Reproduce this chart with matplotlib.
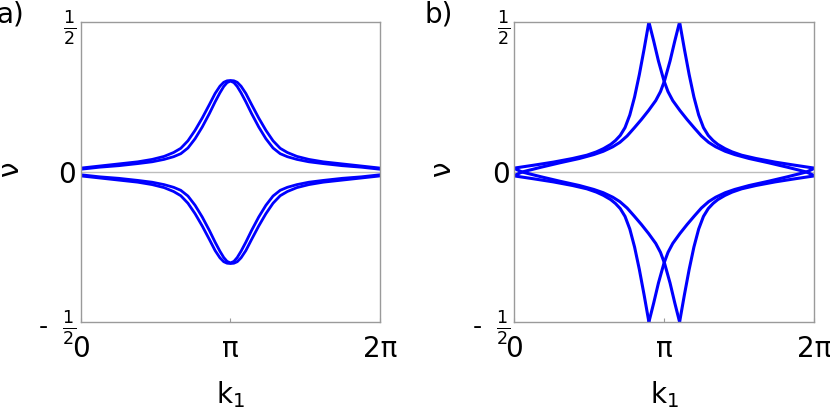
import numpy as np
import matplotlib.pyplot as plt

# panel a) - two close pairs of curves, peaked at pi
k_a = [0, 0.4, 0.8, 1.2, 1.5, 1.75, 1.95, 2.1, 2.25, 2.4, 2.55, 2.7, 2.82, 2.92, 3.0, 3.07,
       3.1416, 3.213, 3.283, 3.363, 3.463, 3.583, 3.733, 3.883, 4.033, 4.183, 4.333, 4.533,
       4.783, 5.083, 5.483, 5.883, 6.283]
nu_a_outer = [0.013, 0.020, 0.027, 0.034, 0.042, 0.052, 0.065, 0.079, 0.104, 0.139, 0.180,
              0.225, 0.262, 0.286, 0.299, 0.304, 0.305, 0.304, 0.299, 0.286, 0.262, 0.225,
              0.180, 0.139, 0.104, 0.079, 0.065, 0.052, 0.042, 0.034, 0.027, 0.020, 0.013]
nu_a_inner = [0.009, 0.016, 0.021, 0.028, 0.034, 0.042, 0.051, 0.061, 0.080, 0.111, 0.150,
              0.195, 0.234, 0.264, 0.285, 0.298, 0.303, 0.298, 0.285, 0.264, 0.234, 0.195,
              0.150, 0.111, 0.080, 0.061, 0.051, 0.042, 0.034, 0.028, 0.021, 0.016, 0.009]
nu_a_outer_neg = [-0.013, -0.020, -0.027, -0.034, -0.042, -0.052, -0.065, -0.079, -0.104,
                  -0.139, -0.180, -0.225, -0.262, -0.286, -0.299, -0.304, -0.305, -0.304,
                  -0.299, -0.286, -0.262, -0.225, -0.180, -0.139, -0.104, -0.079, -0.065,
                  -0.052, -0.042, -0.034, -0.027, -0.020, -0.013]
nu_a_inner_neg = [-0.009, -0.016, -0.021, -0.028, -0.034, -0.042, -0.051, -0.061, -0.080,
                  -0.111, -0.150, -0.195, -0.234, -0.264, -0.285, -0.298, -0.303, -0.298,
                  -0.285, -0.264, -0.234, -0.195, -0.150, -0.111, -0.080, -0.061, -0.051,
                  -0.042, -0.034, -0.028, -0.021, -0.016, -0.009]

# panel b) - cusps reaching +-1/2 at two k values
# steep arm left of the first cusp, and its mirror right of the second cusp
k_b1 = [0, 0.42, 0.82, 1.22, 1.52, 1.72, 1.87, 2.02, 2.12, 2.22, 2.32, 2.42, 2.52, 2.62,
        2.72, 2.82]
nu_b1 = [0.013, 0.023, 0.033, 0.045, 0.056, 0.067, 0.078, 0.092, 0.105, 0.122, 0.148, 0.19,
         0.25, 0.325, 0.41, 0.5]
k_b2 = [3.463, 3.563, 3.663, 3.763, 3.863, 3.963, 4.063, 4.163, 4.263, 4.413, 4.563, 4.763,
        5.063, 5.463, 5.863, 6.283]
nu_b2 = [0.5, 0.41, 0.325, 0.25, 0.19, 0.148, 0.122, 0.105, 0.092, 0.078, 0.067, 0.056,
         0.045, 0.033, 0.023, 0.013]
# wide arm right of the first cusp, and its mirror left of the second cusp
k_b1r = [2.82, 2.92, 3.02, 3.134, 3.22, 3.32, 3.47, 3.62, 3.77, 3.92, 4.07, 4.22, 4.42,
         4.62, 4.92, 5.32, 5.72, 6.02, 6.12, 6.283]
nu_b1r = [0.5, 0.437, 0.37, 0.305, 0.268, 0.238, 0.205, 0.175, 0.147, 0.12, 0.099, 0.084,
          0.069, 0.058, 0.045, 0.031, 0.016, 0.004, 0.0, -0.012]
k_b2l = [0, 0.163, 0.263, 0.563, 0.963, 1.363, 1.663, 1.863, 2.063, 2.213, 2.363, 2.513,
         2.663, 2.813, 2.963, 3.063, 3.149, 3.263, 3.363, 3.463]
nu_b2l = [-0.012, 0.0, 0.004, 0.016, 0.031, 0.045, 0.058, 0.069, 0.084, 0.099, 0.12, 0.147,
          0.175, 0.205, 0.238, 0.268, 0.305, 0.37, 0.437, 0.5]
nu_b1_neg = [-0.013, -0.023, -0.033, -0.045, -0.056, -0.067, -0.078, -0.092, -0.105, -0.122,
             -0.148, -0.19, -0.25, -0.325, -0.41, -0.5]
nu_b2_neg = [-0.5, -0.41, -0.325, -0.25, -0.19, -0.148, -0.122, -0.105, -0.092, -0.078,
             -0.067, -0.056, -0.045, -0.033, -0.023, -0.013]
nu_b1r_neg = [-0.5, -0.437, -0.37, -0.305, -0.268, -0.238, -0.205, -0.175, -0.147, -0.12,
              -0.099, -0.084, -0.069, -0.058, -0.045, -0.031, -0.016, -0.004, 0.0, 0.012]
nu_b2l_neg = [0.012, 0.0, -0.004, -0.016, -0.031, -0.045, -0.058, -0.069, -0.084, -0.099,
              -0.12, -0.147, -0.175, -0.205, -0.238, -0.268, -0.305, -0.37, -0.437, -0.5]

x_ticks = [0, np.pi, 2 * np.pi]
x_labels = ["0", "π", "2π"]
y_ticks = [-0.5, 0, 0.5]
y_labels = [r"-  $\frac{1}{2}$", "0", r"$\frac{1}{2}$"]

BLUE = "#0000ff"
GRAY = "#9a9a9a"


def style_axes(ax):
    ax.set_xlim(0, 2 * np.pi)
    ax.set_ylim(-0.5, 0.5)
    ax.axhline(0, color="#bdbdbd", lw=1, zorder=0)
    for s in ax.spines.values():
        s.set_color(GRAY)
        s.set_linewidth(1)
    ax.set_xticks(x_ticks)
    ax.set_xticklabels(x_labels, fontsize=20)
    ax.set_yticks(y_ticks)
    ax.set_yticklabels(y_labels, fontsize=20)
    for lab in ax.get_yticklabels()[::2]:
        lab.set_fontsize(18)
    ax.tick_params(axis="x", direction="in", length=3, color=GRAY, pad=9)
    ax.tick_params(axis="y", direction="in", length=0, pad=3)
    ax.set_xlabel(r"k$_1$", fontsize=20, labelpad=12)


fig = plt.figure(figsize=(8.3, 4.09), dpi=100)
ax1 = fig.add_axes([0.097, 0.2127, 0.3614, 0.7335])
ax2 = fig.add_axes([0.6196, 0.2127, 0.3614, 0.7335])

lw = 2.0
ax1.plot(k_a, nu_a_outer, color=BLUE, lw=lw)
ax1.plot(k_a, nu_a_inner, color=BLUE, lw=lw)
ax1.plot(k_a, nu_a_outer_neg, color=BLUE, lw=lw)
ax1.plot(k_a, nu_a_inner_neg, color=BLUE, lw=lw)
style_axes(ax1)

lw_b = 2.2
ax2.plot(k_b1, nu_b1, color=BLUE, lw=lw_b)
ax2.plot(k_b1r, nu_b1r, color=BLUE, lw=lw_b)
ax2.plot(k_b2, nu_b2, color=BLUE, lw=lw_b)
ax2.plot(k_b2l, nu_b2l, color=BLUE, lw=lw_b)
ax2.plot(k_b1, nu_b1_neg, color=BLUE, lw=lw_b)
ax2.plot(k_b1r, nu_b1r_neg, color=BLUE, lw=lw_b)
ax2.plot(k_b2, nu_b2_neg, color=BLUE, lw=lw_b)
ax2.plot(k_b2l, nu_b2l_neg, color=BLUE, lw=lw_b)
style_axes(ax2)

# rotated nu labels, placed like the reference
fig.text(0.0115, 0.587, "ν", fontsize=20, rotation=90, ha="center", va="center")
fig.text(0.532, 0.587, "ν", fontsize=20, rotation=90, ha="center", va="center")

fig.text(-0.004, 1.0, "a)", fontsize=20, va="top", ha="left")
fig.text(0.511, 1.0, "b)", fontsize=20, va="top", ha="left")

fig.savefig("out.png", dpi=100)
